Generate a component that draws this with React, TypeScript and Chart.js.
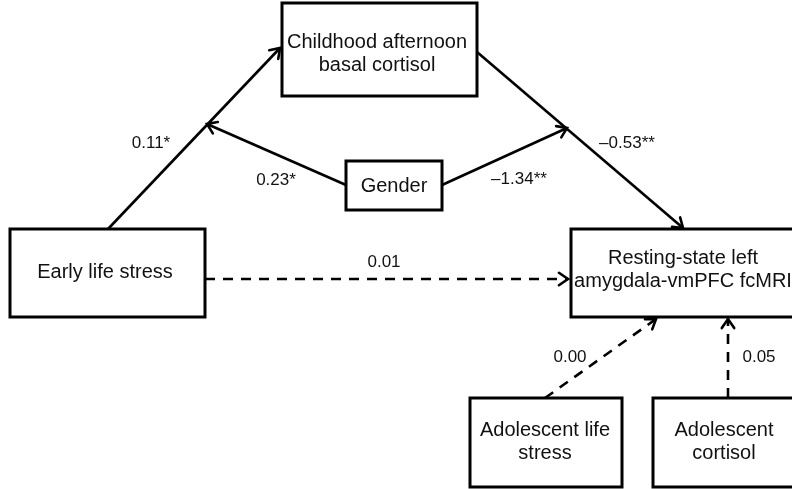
import React, { useEffect, useRef } from "react";
import { Chart, registerables } from "chart.js";

Chart.register(...registerables);

// Diagram nodes (diagram coordinate system: x 0..792, y 0..489 top-down)
const nodeLines: string[][] = [
  ["Childhood afternoon", "basal cortisol"],
  ["Early life stress"],
  ["Gender"],
  ["Resting-state left", "amygdala-vmPFC fcMRI"],
  ["Adolescent life", "stress"],
  ["Adolescent", "cortisol"],
];
const nodeLeft = [282, 10, 346, 571, 470, 653];
const nodeTop = [3, 229, 161, 229, 398, 398];
const nodeRight = [477, 205, 442, 806, 622, 806];
const nodeBottom = [96, 317, 210, 317, 487, 487];
const nodeTextX = [377, 105, 394, 683, 545, 724];
const nodeTextY = [42, 272, 186, 258, 430, 430];

// Paths
const pathFromX = [108, 346, 442, 477, 205, 545, 728];
const pathFromY = [229, 185, 185, 52, 279, 398, 398];
const pathToX = [280, 207, 567, 683, 568, 656, 728];
const pathToY = [48, 124, 128, 228, 279, 319, 319];
const pathDashed = [false, false, false, false, true, true, true];

// Coefficients
const coefLabels = ["0.11*", "0.23*", "\u20131.34**", "\u20130.53**", "0.01", "0.00", "0.05"];
const coefX = [151, 276, 519, 627, 384, 570, 759];
const coefY = [143, 180, 179, 143, 262, 357, 357];

const FONT = '"Liberation Sans", Arial, sans-serif';

export default function App() {
  const ref = useRef<HTMLCanvasElement | null>(null);
  useEffect(() => {
    if (!ref.current) return;
    const datasets = pathFromX.map((_, i) => ({
      data: [
        { x: pathFromX[i], y: pathFromY[i] },
        { x: pathToX[i], y: pathToY[i] },
      ],
      showLine: true,
      borderColor: "#000",
      borderWidth: 2.6,
      borderDash: pathDashed[i] ? [10, 8] : [],
      pointRadius: 0,
      fill: false,
    }));

    const diagramPlugin = {
      id: "diagram",
      beforeDraw(chart: any) {
        const c = chart.ctx;
        c.save();
        c.fillStyle = "#fff";
        c.fillRect(0, 0, chart.width, chart.height);
        c.restore();
      },
      afterDatasetsDraw(chart: any) {
        const c = chart.ctx as CanvasRenderingContext2D;
        const xs = chart.scales.x;
        const ys = chart.scales.y;
        c.save();
        // arrowheads
        c.strokeStyle = "#000";
        c.lineWidth = 2.6;
        c.setLineDash([]);
        c.lineCap = "round";
        c.lineJoin = "miter";
        for (let i = 0; i < pathFromX.length; i++) {
          const x1 = xs.getPixelForValue(pathFromX[i]);
          const y1 = ys.getPixelForValue(pathFromY[i]);
          const x2 = xs.getPixelForValue(pathToX[i]);
          const y2 = ys.getPixelForValue(pathToY[i]);
          const a = Math.atan2(y2 - y1, x2 - x1);
          const L = 11;
          const h = 0.6;
          c.beginPath();
          c.moveTo(x2 - L * Math.cos(a - h), y2 - L * Math.sin(a - h));
          c.lineTo(x2, y2);
          c.lineTo(x2 - L * Math.cos(a + h), y2 - L * Math.sin(a + h));
          c.stroke();
        }
        // boxes
        c.lineWidth = 3;
        c.lineCap = "butt";
        for (let i = 0; i < nodeLines.length; i++) {
          const l = xs.getPixelForValue(nodeLeft[i]);
          const r = xs.getPixelForValue(nodeRight[i]);
          const t = ys.getPixelForValue(nodeTop[i]);
          const b = ys.getPixelForValue(nodeBottom[i]);
          c.fillStyle = "#fff";
          c.fillRect(l, t, r - l, b - t);
          c.strokeRect(l, t, r - l, b - t);
          c.fillStyle = "#111";
          c.font = `20px ${FONT}`;
          c.textAlign = "center";
          c.textBaseline = "middle";
          nodeLines[i].forEach((line, j) => {
            c.fillText(
              line,
              xs.getPixelForValue(nodeTextX[i]),
              ys.getPixelForValue(nodeTextY[i] + j * 23)
            );
          });
        }
        // coefficients
        c.font = `17px ${FONT}`;
        c.fillStyle = "#111";
        c.textAlign = "center";
        c.textBaseline = "middle";
        coefLabels.forEach((lab, i) => {
          c.fillText(lab, xs.getPixelForValue(coefX[i]), ys.getPixelForValue(coefY[i]));
        });
        c.restore();
      },
    };

    const chart = new Chart(ref.current, {
      type: "scatter",
      data: { datasets } as any,
      options: {
        animation: false,
        responsive: false,
        devicePixelRatio: 1,
        layout: { padding: 0 },
        scales: {
          x: { type: "linear", min: 0, max: 792, display: false },
          y: { type: "linear", min: 0, max: 489, reverse: true, display: false },
        },
        plugins: {
          legend: { display: false },
          tooltip: { enabled: false },
        },
      } as any,
      plugins: [diagramPlugin],
    });
    return () => chart.destroy();
  }, []);

  return (
    <div style={{ position: "fixed", left: 0, top: 0, width: 792, height: 489, background: "#fff" }}>
      <canvas ref={ref} width={792} height={489} style={{ display: "block" }} />
    </div>
  );
}
